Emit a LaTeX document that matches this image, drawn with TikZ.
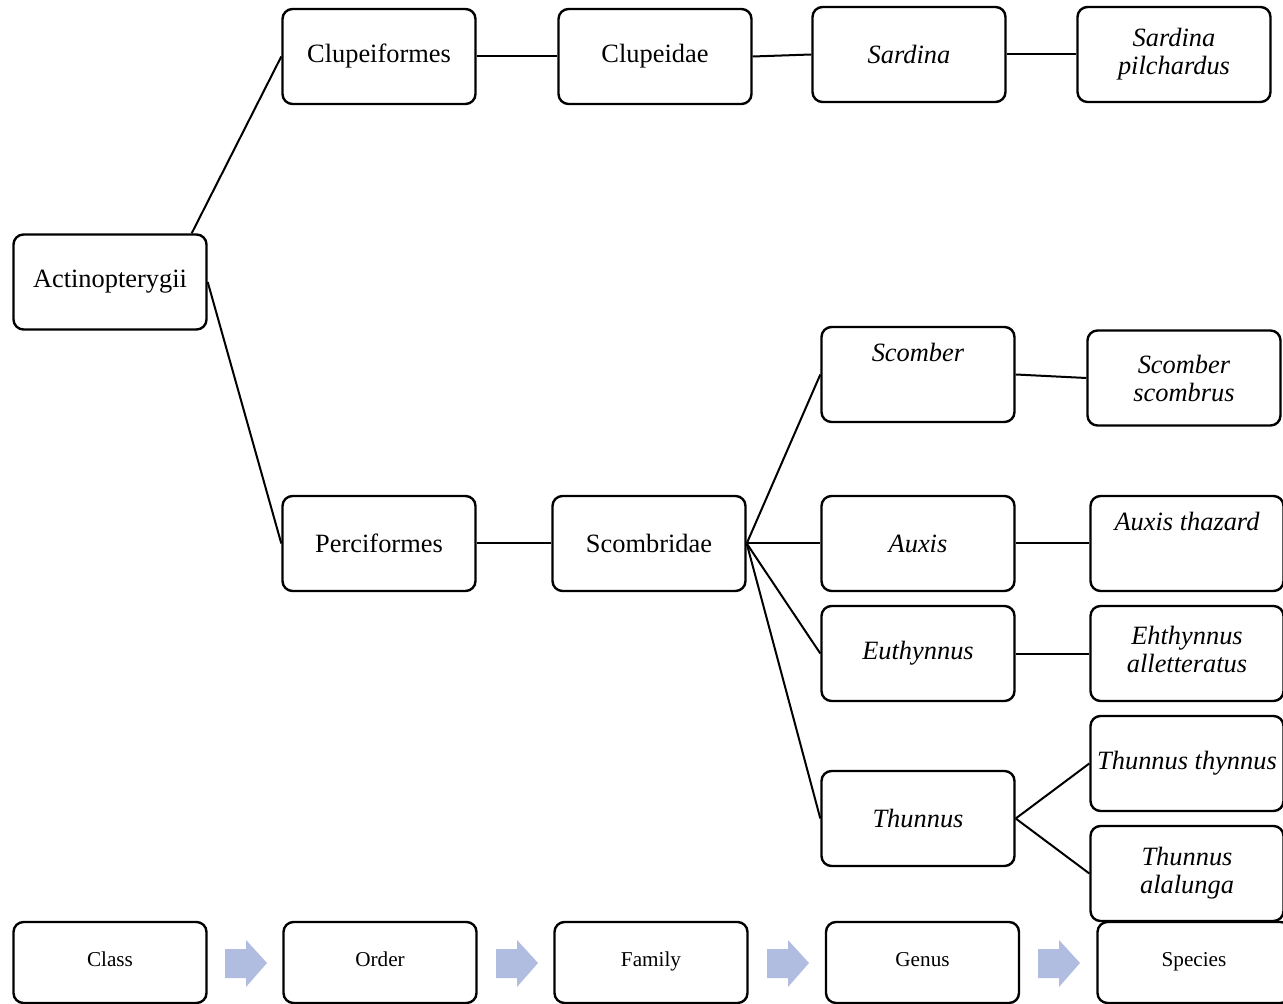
\documentclass[tikz,border=0pt]{standalone}
\usepackage{fontspec}
\setmainfont{Liberation Serif}

\definecolor{flowblue}{RGB}{176,189,224}
\tikzset{
  taxon/.style={draw, line width=1.2pt, rounded corners=5pt,
    minimum width=96.5pt, minimum height=47.5pt, inner sep=0pt,
    align=center, font=\fontsize{13.2}{14}\selectfont},
  toptext/.style={text height=9pt, text depth=22pt},
  rank/.style={taxon, minimum height=40.5pt, text height=7pt, text depth=3.5pt,
    font=\fontsize{10.6}{12}\selectfont},
  flow/.style={fill=flowblue},
}

\begin{document}
\begin{tikzpicture}[x=0.5pt, y=-0.5pt, line width=1pt]
  \clip (0,0) rectangle (1283,1004);
  % class and orders
  \node[taxon] (actino) at (110,282)   {Actinopterygii};
  \node[taxon] (clupeif) at (379,56.5) {Clupeiformes};
  \node[taxon] (percif) at (379,543.5) {Perciformes};
  % families
  \node[taxon] (clupeid) at (655,56.5)  {Clupeidae};
  \node[taxon] (scombrid) at (649,543.5) {Scombridae};
  % genera
  \node[taxon] (sardina) at (909,54.5) {\textit{Sardina}};
  \node[taxon,toptext] (scomber) at (918,374.5) {\textit{Scomber}};
  \node[taxon] (auxis) at (918,543.5)  {\textit{Auxis}};
  \node[taxon] (euthyn) at (918,653.5) {\textit{Euthynnus}};
  \node[taxon] (thunnus) at (918,818.5) {\textit{Thunnus}};
  % species
  \node[taxon] (pilch) at (1174,54.5)   {\textit{Sardina}\\\textit{pilchardus}};
  \node[taxon] (scombrus) at (1184,378) {\textit{Scomber}\\\textit{scombrus}};
  \node[taxon,toptext] (thazard) at (1187,543.5) {\textit{Auxis thazard}};
  \node[taxon] (allett) at (1187,653.5)  {\textit{Ehthynnus}\\\textit{alletteratus}\\[-10pt]};
  \node[taxon] (thynnus) at (1187,763.5) {\textit{Thunnus thynnus}};
  \node[taxon] (alalunga) at (1187,873.5) {\textit{Thunnus}\\\textit{alalunga}};

  \draw ([xshift=-8pt]actino.north east) -- (clupeif.west);
  \draw (actino.east) -- (percif.west);
  \draw (clupeif.east) -- (clupeid.west);
  \draw (clupeid.east) -- (sardina.west);
  \draw (sardina.east) -- (pilch.west);
  \draw (percif.east) -- (scombrid.west);
  \draw (scombrid.east) -- (scomber.west);
  \draw (scombrid.east) -- (auxis.west);
  \draw (scombrid.east) -- (euthyn.west);
  \draw (scombrid.east) -- (thunnus.west);
  \draw (scomber.east) -- (scombrus.west);
  \draw (auxis.east) -- (thazard.west);
  \draw (euthyn.east) -- (allett.west);
  \draw (thunnus.east) -- (thynnus.west);
  \draw (thunnus.east) -- (alalunga.west);

  % rank legend
  \node[rank] (class) at (110,962.5)   {Class};
  \node[rank] (order) at (380,962.5)   {Order};
  \node[rank] (family) at (651,962.5)  {Family};
  \node[rank] (genus) at (922.5,962.5) {Genus};
  \node[rank] (species) at (1194,962.5) {Species};
  \fill[flow] (225,949) -- ++(21,0) -- ++(0,-9) -- ++(21,23) -- ++(-21,24) -- ++(0,-9) -- ++(-21,0) -- cycle;
  \fill[flow] (496,949) -- ++(21,0) -- ++(0,-9) -- ++(21,23) -- ++(-21,24) -- ++(0,-9) -- ++(-21,0) -- cycle;
  \fill[flow] (767,949) -- ++(21,0) -- ++(0,-9) -- ++(21,23) -- ++(-21,24) -- ++(0,-9) -- ++(-21,0) -- cycle;
  \fill[flow] (1038,949) -- ++(21,0) -- ++(0,-9) -- ++(21,23) -- ++(-21,24) -- ++(0,-9) -- ++(-21,0) -- cycle;
\end{tikzpicture}
\end{document}
